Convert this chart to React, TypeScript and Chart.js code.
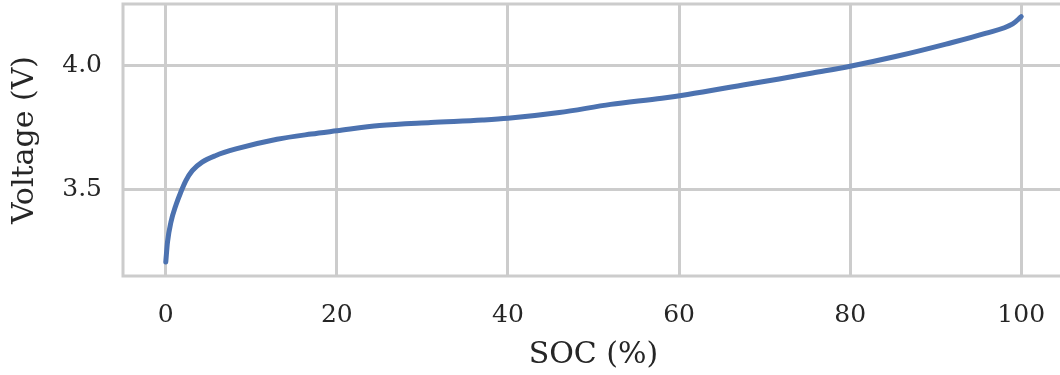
import React, { useEffect, useRef } from "react";
import { Chart, registerables } from "chart.js";

Chart.register(...registerables);

// State of charge (%) and open-circuit voltage (V)
const socValues = [0, 0.2, 0.6, 1.2, 1.75, 2.35, 3.1, 4.25, 5.8, 8.2, 13, 17, 20, 25, 31, 37, 40, 46, 52, 58, 61, 68, 71.7, 75.6, 80, 85.3, 91.2, 95.8, 99, 100];
const voltageValues = [3.21, 3.29, 3.37, 3.44, 3.49, 3.537, 3.577, 3.611, 3.637, 3.664, 3.703, 3.724, 3.737, 3.758, 3.77, 3.78, 3.787, 3.81, 3.843, 3.868, 3.883, 3.924, 3.945, 3.969, 3.996, 4.035, 4.085, 4.128, 4.166, 4.195];

const xTicks = [0, 20, 40, 60, 80, 100];
const yTicks = [3.5, 4.0];
const yTickLabels = ["3.5", "4.0"];

const FONT = "'DejaVu Serif', 'Liberation Serif', serif";
const GRID = "#cccccc";
const TEXT = "#262626";

const frame = {
  id: "frame",
  beforeDatasetsDraw(chart: any) {
    const { ctx, chartArea } = chart;
    ctx.save();
    ctx.strokeStyle = GRID;
    ctx.lineWidth = 3;
    ctx.strokeRect(chartArea.left, chartArea.top, chartArea.right - chartArea.left, chartArea.bottom - chartArea.top);
    ctx.restore();
  },
};

export default function App() {
  const ref = useRef<HTMLCanvasElement>(null);

  useEffect(() => {
    if (!ref.current) return;
    const chart = new Chart(ref.current, {
      type: "line",
      data: {
        datasets: [
          {
            data: socValues.map((x, i) => ({ x, y: voltageValues[i] })),
            borderColor: "#4c72b0",
            borderWidth: 5,
            borderCapStyle: "round",
            borderJoinStyle: "round",
            pointRadius: 0,
            cubicInterpolationMode: "monotone",
            fill: false,
          },
        ],
      },
      options: {
        animation: false,
        responsive: false,
        layout: { padding: { left: 0, top: 4, right: 6, bottom: 0 } },
        plugins: { legend: { display: false }, tooltip: { enabled: false } },
        scales: {
          x: {
            type: "linear",
            min: -5,
            max: 105,
            afterBuildTicks: (s: any) => {
              s.ticks = xTicks.map((v) => ({ value: v }));
            },
            afterFit: (s: any) => {
              s.height = 99;
              s.paddingLeft = 0;
              s.paddingRight = 0;
              s.paddingTop = 0;
              s.paddingBottom = 0;
            },
            border: { display: false },
            grid: { color: GRID, lineWidth: 3, drawTicks: false },
            ticks: {
              padding: 24,
              color: TEXT,
              font: { family: FONT, size: 25 },
              maxRotation: 0,
              callback: (v: any) => String(v),
            },
            title: {
              display: true,
              text: "SOC (%)",
              color: TEXT,
              font: { family: FONT, size: 30 },
              padding: { top: 0, bottom: 2 },
            },
          },
          y: {
            type: "linear",
            min: 3.154,
            max: 4.246,
            afterBuildTicks: (s: any) => {
              s.ticks = yTicks.map((v) => ({ value: v }));
            },
            afterFit: (s: any) => {
              s.width = 123;
              s.paddingLeft = 0;
              s.paddingRight = 0;
              s.paddingTop = 0;
              s.paddingBottom = 0;
            },
            border: { display: false },
            grid: { color: GRID, lineWidth: 3, drawTicks: false },
            ticks: {
              padding: 21,
              color: TEXT,
              font: { family: FONT, size: 25 },
              callback: (v: any) => {
                const i = yTicks.indexOf(v);
                return i >= 0 ? yTickLabels[i] : "";
              },
            },
            title: {
              display: true,
              text: "Voltage (V)",
              color: TEXT,
              font: { family: FONT, size: 30 },
              padding: { top: 7, bottom: 0 },
            },
          },
        },
      },
      plugins: [frame],
    } as any);
    return () => chart.destroy();
  }, []);

  return (
    <div style={{ position: "absolute", left: 0, top: 0, width: 1060, height: 375, overflow: "hidden", background: "#fff" }}>
      <canvas ref={ref} width={1070} height={375} style={{ display: "block", width: 1070, height: 375 }} />
    </div>
  );
}
